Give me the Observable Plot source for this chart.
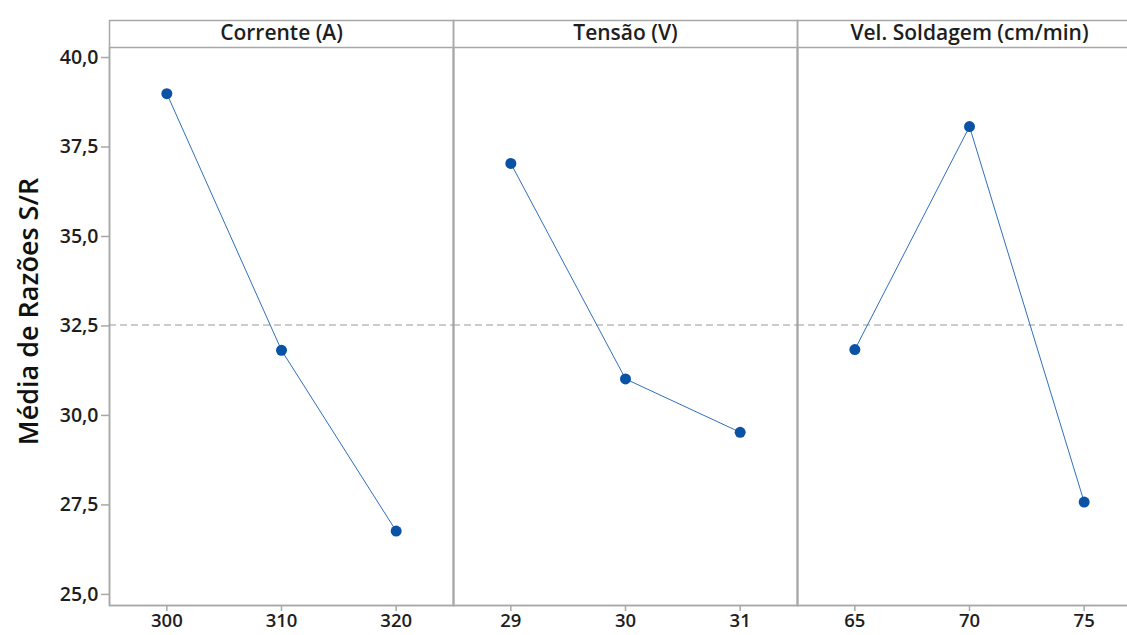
<!DOCTYPE html>
<html>
<head>
<meta charset="utf-8">
<script src="https://cdn.jsdelivr.net/npm/d3@7"></script>
<script src="https://cdn.jsdelivr.net/npm/@observablehq/plot@0.6"></script>
<style>
  html, body { margin: 0; padding: 0; background: #fff; overflow: hidden; }
  #chart svg { display: block; }
</style>
</head>
<body>
<div id="chart"></div>
<script>
const factors = ["Corrente (A)", "Tensão (V)", "Vel. Soldagem (cm/min)"];
const levels = [["300", "310", "320"], ["29", "30", "31"], ["65", "70", "75"]];
const means = [[38.99, 31.82, 26.77], [37.04, 31.02, 29.53], [31.84, 38.07, 27.58]];
const yTicks = [25, 27.5, 30, 32.5, 35, 37.5, 40];
const yLabel = "Média de Razões S/R";

const data = [];
factors.forEach((f, i) => levels[i].forEach((l, j) => data.push({factor: f, idx: j, level: l, value: means[i][j]})));
const grandMean = d3.mean(means[0]);

const font = "'Open Sans', 'Noto Sans', sans-serif";
const textColor = "#1e1e1e";
const gridColor = "#a8a8a8";

const chart = Plot.plot({
  width: 1127,
  height: 635,
  marginLeft: 108,
  marginRight: -14,
  marginTop: 47,
  marginBottom: 30,
  style: {fontFamily: font, color: textColor, background: "#fff"},
  fx: {domain: factors, padding: 0, axis: null},
  x: {domain: [-0.5, 2.5], axis: null},
  y: {domain: [24.69, 40.28], axis: null},
  marks: [
    Plot.frame({stroke: gridColor, strokeWidth: 1.5, insetTop: -27}),
    Plot.frame({stroke: gridColor, strokeWidth: 1.5}),
    Plot.text(factors, {fx: d => d, text: d => d, frameAnchor: "top", lineAnchor: "middle", dy: -14, fontSize: 21, fontWeight: 600, fill: textColor}),
    Plot.axisY({
      ticks: yTicks,
      tickFormat: d => d.toFixed(1).replace(".", ","),
      tickSize: 8,
      tickPadding: 3,
      fontSize: 19.5,
      fontWeight: 600,
      stroke: gridColor,
      strokeWidth: 1.5,
      label: null
    }),
    Plot.axisX({
      ticks: [0, 1, 2],
      tickFormat: () => "",
      tickSize: 6,
      stroke: gridColor,
      strokeWidth: 1.5,
      label: null
    }),
    Plot.text(data, {fx: "factor", x: "idx", text: "level", frameAnchor: "bottom", lineAnchor: "middle", dy: 16, fontSize: 18.5, fontWeight: 600, fill: textColor}),
    Plot.text([yLabel], {fx: () => factors[0], text: d => d, frameAnchor: "left", textAnchor: "middle", lineAnchor: "middle", rotate: -90, dx: -80, dy: -15, fontSize: 27, fontWeight: 600, fill: "#111"}),
    Plot.ruleY([grandMean], {stroke: "#999", strokeWidth: 1.2, strokeDasharray: "7,4"}),
    Plot.line(data, {fx: "factor", x: "idx", y: "value", stroke: "#2f6fbd", strokeWidth: 1}),
    Plot.dot(data, {fx: "factor", x: "idx", y: "value", r: 5.5, fill: "#0a52a3", stroke: "none"})
  ]
});
document.getElementById("chart").appendChild(chart);
</script>
</body>
</html>
